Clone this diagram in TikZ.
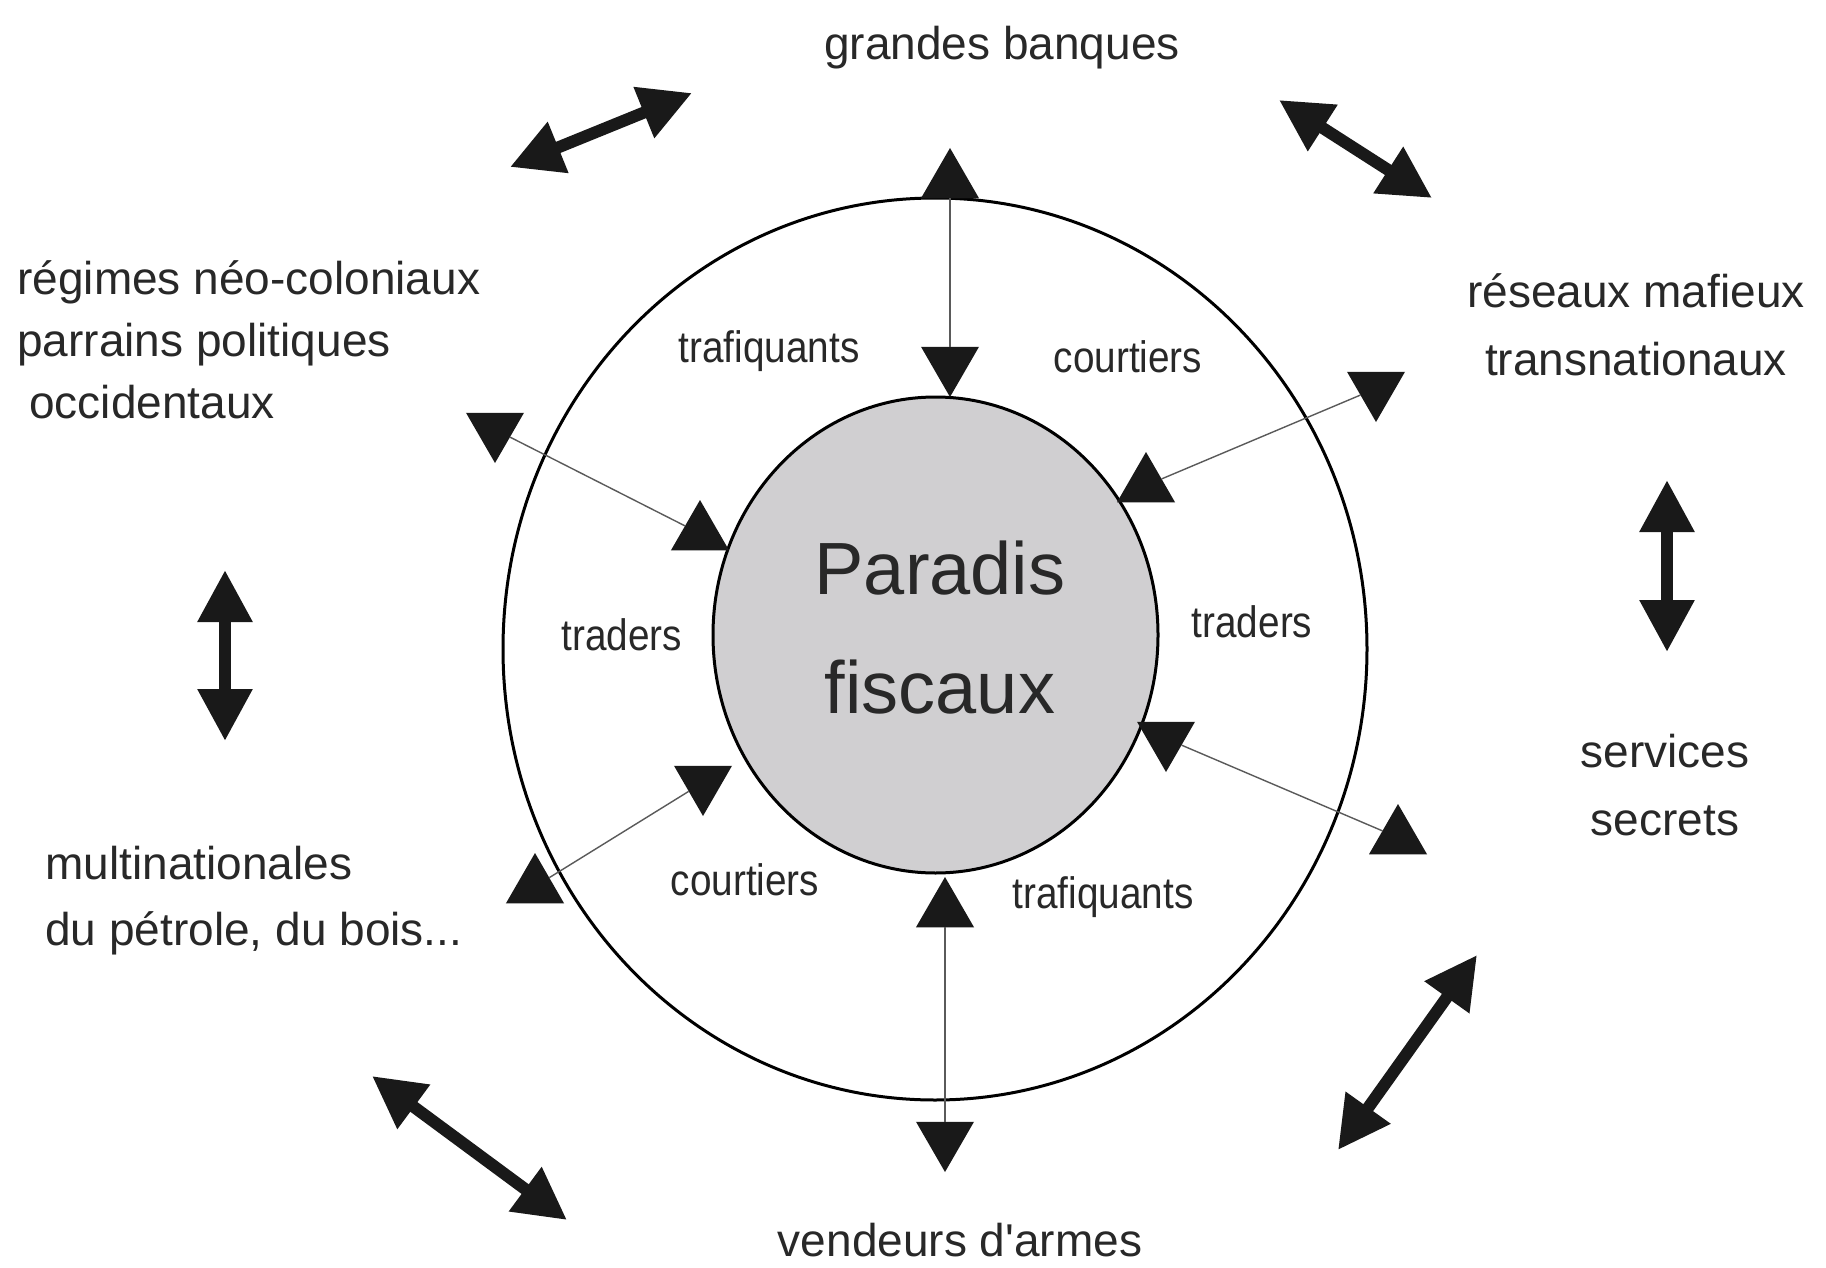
\documentclass[tikz,border=0pt]{standalone}
\usepackage{fontspec}
\setmainfont{Liberation Sans}
\newfontfamily\narrowfont[FakeStretch=0.88]{Liberation Sans}
\usetikzlibrary{arrows.meta,shapes.geometric}
\definecolor{paradis_color}{RGB}{208,207,209}
\definecolor{text_color}{RGB}{40,40,40}
\definecolor{link_color}{RGB}{90,90,90}
\tikzset{
  outer_label/.style={
    text=text_color, inner sep=0pt,
    font=\fontsize{23pt}{34pt}\selectfont
  },
  ring_label/.style={
    text=text_color, inner sep=0pt,
    font=\narrowfont\fontsize{22pt}{26pt}\selectfont
  },
  ring/.style={
    draw=black, line width=1.5pt, ellipse, inner sep=0pt
  },
  tri_up/.style={
    regular polygon, regular polygon sides=3, fill=black!90,
    minimum size=33.5pt, inner sep=0pt, outer sep=0pt, anchor=corner 1
  },
  tri_down/.style={tri_up, shape border rotate=180},
  thinlink/.style={link_color, line width=0.7pt},
  biglink/.style={
    black!90, line width=6pt,
    {Triangle[length=26pt, width=26pt]}-{Triangle[length=26pt, width=26pt]}
  }
}

\begin{document}
\begin{tikzpicture}[x=0.5pt, y=-0.5pt]

\path[use as bounding box, fill=white] (0,0) rectangle (1826,1268);

\node[ring, minimum width=432pt, minimum height=451pt] (outer) at (935,649) {};
\node[ring, fill=paradis_color, minimum width=222.5pt, minimum height=238pt] (paradis) at (935.5,635) {};
% base of a multi-line node = baseline of its last line
\node[anchor=base, align=center, text=text_color, inner sep=0pt,
      font=\fontsize{37pt}{59.5pt}\selectfont] (paradis_text) at (940,713) {Paradis\\fiscaux};

% triangles at the ends of the thin links
\node[tri_up] (top_out) at (950,148) {};
\node[tri_down] (top_in) at (950,397) {};
\node[tri_down] (ul_out) at (495,463) {};
\node[tri_up] (ul_in) at (700,500) {};
\node[tri_down] (ur_out) at (1376,422) {};
\node[tri_up] (ur_in) at (1146,452) {};
\node[tri_down] (lr_in) at (1166,772) {};
\node[tri_up] (lr_out) at (1398,804) {};
\node[tri_down] (ll_in) at (703,816) {};
\node[tri_up] (ll_out) at (535,853) {};
\node[tri_up] (bot_in) at (945,877) {};
\node[tri_down] (bot_out) at (945,1172) {};

\draw[thinlink] (top_out) -- (top_in);
\draw[thinlink] (ul_out) -- (ul_in);
\draw[thinlink] (ur_out) -- (ur_in);
\draw[thinlink] (lr_in) -- (lr_out);
\draw[thinlink] (ll_in) -- (ll_out);
\draw[thinlink] (bot_in) -- (bot_out);

% labels in the ring
\node[ring_label, anchor=base] (traf_top) at (769,362) {trafiquants};
\node[ring_label, anchor=base] (court_top) at (1128,372) {courtiers};
\node[ring_label, anchor=base] (trad_left) at (622,650) {traders};
\node[ring_label, anchor=base] (trad_right) at (1252,637) {traders};
\node[ring_label, anchor=base] (court_bot) at (745,895) {courtiers};
\node[ring_label, anchor=base] (traf_bot) at (1103,908) {trafiquants};

% outside actors
\node[outer_label, anchor=base] (banques) at (1002,60) {grandes banques};
\node[outer_label, anchor=base west, align=left,
      font=\fontsize{23pt}{31pt}\selectfont] (regimes) at (17,418)
  {régimes néo-coloniaux\\parrains politiques\\\hspace*{6pt}occidentaux};
\node[outer_label, anchor=base, align=center] (mafieux) at (1636,375)
  {réseaux mafieux\\transnationaux};
\node[outer_label, anchor=base, align=center] (secrets) at (1665,835)
  {services\\secrets};
\node[outer_label, anchor=base west, align=left,
      font=\fontsize{23pt}{33pt}\selectfont] (multinat) at (45,945)
  {multinationales\\du pétrole, du bois...};
\node[outer_label, anchor=base] (armes) at (960,1256) {vendeurs d\textquotesingle armes};

% thick double arrows between the actors
\coordinate (tl_a) at (510,167);
\coordinate (tl_b) at (692,93);
\coordinate (tr_a) at (1279,100);
\coordinate (tr_b) at (1432,198);
\coordinate (l_a) at (225,570);
\coordinate (l_b) at (225,741);
\coordinate (r_a) at (1667,480);
\coordinate (r_b) at (1667,652);
\coordinate (bl_a) at (372,1076);
\coordinate (bl_b) at (567,1220);
\coordinate (br_a) at (1477,955);
\coordinate (br_b) at (1338,1150);
\draw[biglink] (tl_a) -- (tl_b);
\draw[biglink] (tr_a) -- (tr_b);
\draw[biglink] (l_a) -- (l_b);
\draw[biglink] (r_a) -- (r_b);
\draw[biglink] (bl_a) -- (bl_b);
\draw[biglink] (br_a) -- (br_b);

\end{tikzpicture}
\end{document}
